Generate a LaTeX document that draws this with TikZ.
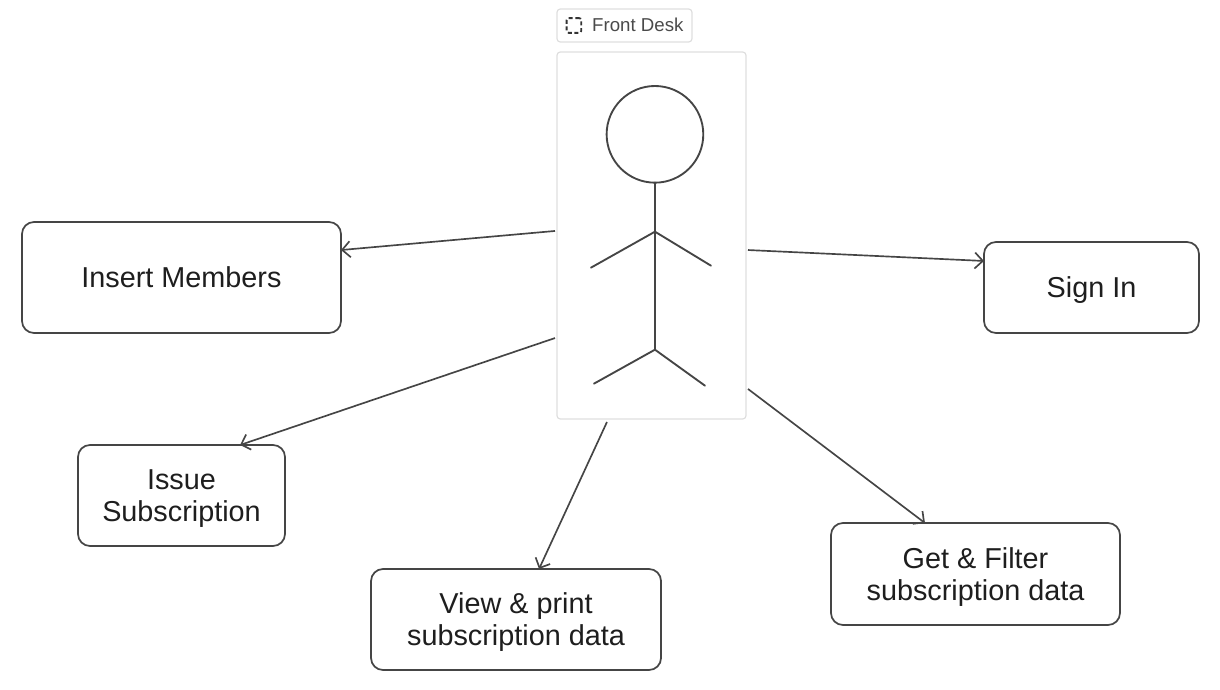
\documentclass[tikz,border=0pt]{standalone}
\usepackage{fontspec}
\setmainfont{Liberation Sans}
\usetikzlibrary{arrows.meta, positioning}
\definecolor{inkgray}{HTML}{454545}
\definecolor{textgray}{HTML}{1E1E1E}
\definecolor{framegray}{HTML}{DEDEDE}
\definecolor{taggray}{HTML}{4A4A4A}
\newcommand{\toprule}[1]{\rule{0pt}{#1}}
\tikzset{
  casebox/.style={draw=inkgray, line width=1.3pt, rounded corners=9pt, fill=white, outer sep=0pt,
                  font=\fontsize{21.6}{24}\selectfont, text=textgray, align=center, inner sep=0pt},
  actorbox/.style={draw=framegray, line width=0.9pt, rounded corners=2.5pt, outer sep=0pt,
                   minimum width=141.75pt, minimum height=275.25pt},
  tagbox/.style={draw=framegray, line width=0.9pt, rounded corners=2.5pt, outer sep=0pt,
                 font=\fontsize{14}{16}\selectfont, text=taggray, inner sep=0pt,
                 minimum width=101.25pt, minimum height=24.75pt},
  arr/.style={-{Straight Barb[length=6pt, width=12pt]}, line width=1.25pt, inkgray},
  limb/.style={line width=1.4pt, inkgray, line cap=round},
}
\begin{document}
\begin{tikzpicture}

  %% Actor frame and its tag
  \node[actorbox] (frame) at (0,0) {};
  \node[tagbox, above right=7.5pt and 0pt of frame.north west] (tag)
    {\hspace*{20pt}\raisebox{1.2pt}{Front Desk}};
  \node[draw=black!80, dash pattern=on 3pt off 2pt, line width=1.4pt, rounded corners=1.5pt,
        minimum size=11pt, inner sep=0pt, right=6.5pt of tag.west] (tagicon) {};

  %% Stick figure
  \node[draw=inkgray, line width=1.4pt, circle, minimum size=72.5pt, inner sep=0pt, outer sep=0pt,
        below=25.5pt of frame.north, xshift=2.6pt] (head) {};
  \coordinate[below=36.75pt of head.south] (shoulder);
  \coordinate[below=88.5pt of shoulder] (hip);
  \coordinate[below left=27pt and 48pt of shoulder] (larm);
  \coordinate[below right=25.5pt and 42pt of shoulder] (rarm);
  \coordinate[below left=25.5pt and 45.75pt of hip] (lleg);
  \coordinate[below right=27pt and 37.5pt of hip] (rleg);
  \draw[limb] (head.south) -- (hip);
  \draw[limb] (larm) -- (shoulder) -- (rarm);
  \draw[limb] (lleg) -- (hip) -- (rleg);

  %% Use cases
  \node[casebox, minimum width=239.25pt, minimum height=83.25pt,
        left=162pt of frame, yshift=-31.5pt] (members) {Insert Members};
  \node[casebox, minimum width=161.25pt, minimum height=68.25pt,
        right=178.5pt of frame, yshift=-39pt] (signin) {\toprule{19pt}Sign In};
  \node[casebox, minimum width=155.25pt, minimum height=75.75pt,
        below=84pt of members] (issue) {\toprule{20pt}Issue\\Subscription};
  \node[casebox, minimum width=217.5pt, minimum height=75.75pt,
        below=112.5pt of frame, xshift=-101.6pt] (view) {\toprule{20pt}View \& print\\subscription data};
  \node[casebox, minimum width=216.75pt, minimum height=76.5pt,
        below=78pt of frame, xshift=243pt] (filter) {\toprule{20pt}Get \& Filter\\subscription data};

  %% Connectors
  \draw[arr] ([shift={(-1.5pt,3.4pt)}]frame.west) -- ([yshift=20.6pt]members.east);
  \draw[arr] ([shift={(1.5pt,-10.9pt)}]frame.east) -- ([yshift=19.9pt]signin.west);
  \draw[arr] ([shift={(-1.5pt,-76.9pt)}]frame.west) -- ([xshift=43.9pt]issue.north);
  \draw[arr] ([shift={(-33.4pt,-2.25pt)}]frame.south) -- ([xshift=17.25pt]view.north);
  \draw[arr] ([shift={(1.5pt,-115.1pt)}]frame.east) -- ([xshift=-37.9pt]filter.north);

  \useasboundingbox ([shift={(-488.625pt,176.625pt)}]frame.center)
    rectangle ([shift={(426.375pt,-340.125pt)}]frame.center);

\end{tikzpicture}
\end{document}
